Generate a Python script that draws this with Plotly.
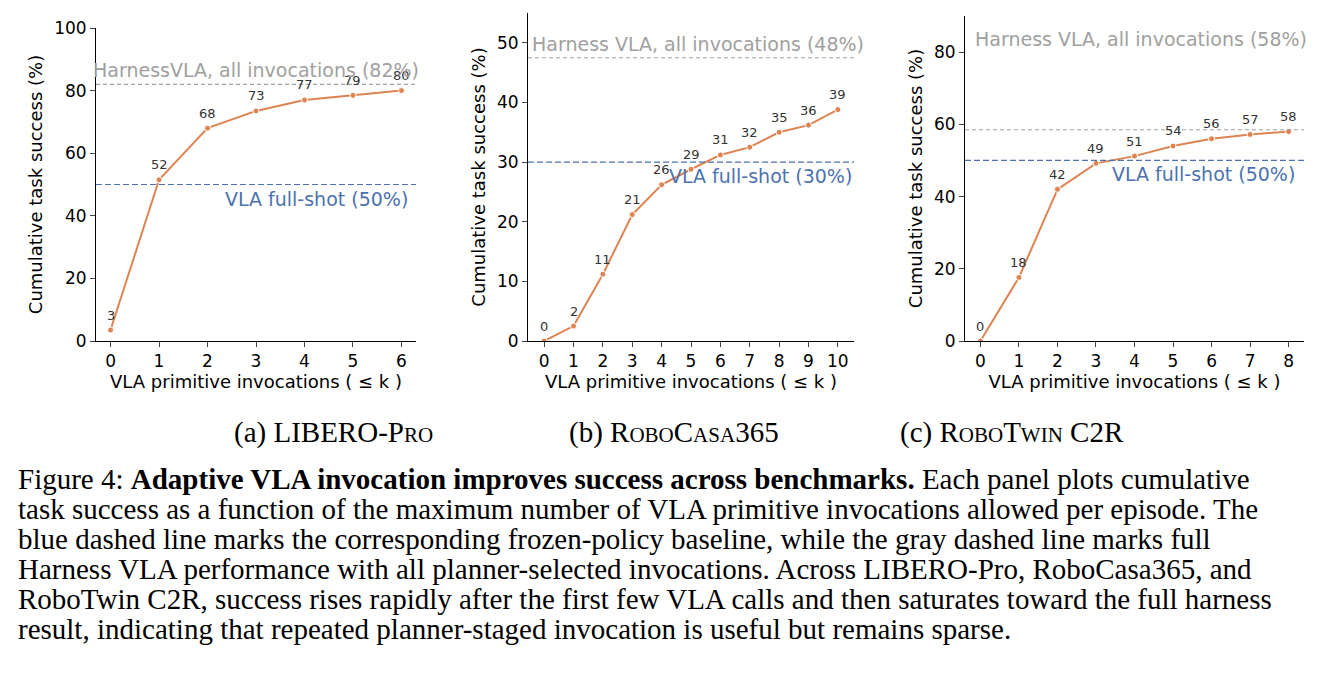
import plotly.graph_objects as go

# data
k_a = [0, 1, 2, 3, 4, 5, 6]
succ_a = [3.5, 51.5, 68, 73.5, 77, 78.5, 80]
lab_a = ["3", "52", "68", "73", "77", "79", "80"]
k_b = list(range(11))
succ_b = [0, 2.5, 11.2, 21.2, 26.2, 28.8, 31.2, 32.5, 35, 36.2, 38.8]
lab_b = ["0", "2", "11", "21", "26", "29", "31", "32", "35", "36", "39"]
k_c = list(range(9))
succ_c = [0, 17.6, 42, 49.2, 51.2, 54, 56, 57.2, 58]
lab_c = ["0", "18", "42", "49", "51", "54", "56", "57", "58"]
harness = [82, 47.5, 58.5]
baseline = [50, 30, 50]
harness_txt = ["HarnessVLA, all invocations (82%)", "Harness VLA, all invocations (48%)",
               "Harness VLA, all invocations (58%)"]
base_txt = ["VLA full-shot (50%)", "VLA full-shot (30%)", "VLA full-shot (50%)"]
sub_caps = ["(a) LIBERO-P<span style='font-size:21px'>RO</span>",
            "(b) R<span style='font-size:21px'>OBO</span>C<span style='font-size:21px'>ASA</span>365",
            "(c) R<span style='font-size:21px'>OBO</span>T<span style='font-size:21px'>WIN</span> C2R"]
caption = [
    "Figure 4: <b>Adaptive VLA invocation improves success across benchmarks.</b> Each panel plots cumulative",
    "task success as a function of the maximum number of VLA primitive invocations allowed per episode. The",
    "blue dashed line marks the corresponding frozen-policy baseline, while the gray dashed line marks full",
    "Harness VLA performance with all planner-selected invocations. Across LIBERO-Pro, RoboCasa365, and",
    "RoboTwin C2R, success rises rapidly after the first few VLA calls and then saturates toward the full harness",
    "result, indicating that repeated planner-staged invocation is useful but remains sparse.",
]

ORANGE = "#dd8452"
BLUE = "#4c72b0"
GRAY = "#a0a0a0"
FONT = "DejaVu Sans"

panels = [
    (k_a, succ_a, lab_a, [-0.3, 6.3], [0, 100], 20, (88, 408), 20, [0, 1, 2, 3, 4, 5, 6]),
    (k_b, succ_b, lab_b, [-0.55, 10.55], [0, 55], 10, (520, 846), 5, list(range(11))),
    (k_c, succ_c, lab_c, [-0.4, 8.4], [0, 90], 20, (957, 1296), 8, list(range(9))),
]
# vertical position of harness label (None = just above the line)
harness_pos = [None, None, 0.93]

W, H = 1320, 699
fig = go.Figure()
annotations = []
shapes = []
ybot = 333
for i, (xs, ys, labs, xr, yr, dt, (x0, x1), ytop, ticks) in enumerate(panels):
    n = "" if i == 0 else str(i + 1)
    fig.add_trace(go.Scatter(x=xs, y=ys, mode="lines+markers",
                             line=dict(color=ORANGE, width=2),
                             marker=dict(color=ORANGE, size=6, line=dict(color="white", width=1)),
                             showlegend=False, xaxis="x" + n, yaxis="y" + n))
    for xv, yv, t in zip(xs, ys, labs):
        annotations.append(dict(x=xv, y=yv, xref="x" + n, yref="y" + n, text=t, showarrow=False,
                                yshift=15, font=dict(family=FONT, size=13, color="#333")))
    dom_y = [1 - ybot / H, 1 - ytop / H]
    common = dict(showline=True, linecolor="black", linewidth=1, ticks="outside", ticklen=5,
                  tickfont=dict(family=FONT, size=17, color="black"), showgrid=False,
                  zeroline=False, automargin=False)
    fig.update_layout(**{
        "xaxis" + n: dict(domain=[x0 / W, x1 / W], range=xr, tickvals=ticks, anchor="y" + n,
                          title=dict(text="VLA primitive invocations ( ≤ k )", standoff=4,
                                     font=dict(family=FONT, size=18, color="black")), **common),
        "yaxis" + n: dict(domain=dom_y, range=yr, dtick=dt, anchor="x" + n,
                          title=dict(text="Cumulative task success (%)", standoff=6,
                                     font=dict(family=FONT, size=18, color="black")), **common),
    })
    shapes.append(dict(type="line", xref="x" + n + " domain", yref="y" + n, x0=0, x1=1,
                       y0=harness[i], y1=harness[i], line=dict(color=GRAY, width=1.2, dash="4px,3px")))
    shapes.append(dict(type="line", xref="x" + n + " domain", yref="y" + n, x0=0, x1=1,
                       y0=baseline[i], y1=baseline[i], line=dict(color=BLUE, width=1.2, dash="6px,3px")))
    if harness_pos[i] is None:
        ha = dict(y=harness[i], yref="y" + n, yanchor="bottom", yshift=1)
    else:
        ha = dict(y=harness_pos[i], yref="y" + n + " domain", yanchor="middle")
    annotations.append(dict(x=0.5 if i == 0 else 0.52, xref="x" + n + " domain",
                            text=harness_txt[i], showarrow=False, xanchor="center",
                            font=dict(family=FONT, size=19, color=GRAY), **ha))
    annotations.append(dict(x=0.98 if i != 1 else 1.0, y=baseline[i], xref="x" + n + " domain", yref="y" + n,
                            text=base_txt[i], showarrow=False, yanchor="top", yshift=-1,
                            xanchor="right", font=dict(family=FONT, size=19, color=BLUE)))

for cx, t in zip([224, 666, 1118], sub_caps):
    annotations.append(dict(x=cx / W, y=1 - 424 / H, xref="paper", yref="paper", text=t,
                            showarrow=False, font=dict(family="Liberation Serif", size=29, color="black")))
for j, line in enumerate(caption):
    annotations.append(dict(x=8 / W, y=1 - (489 + 30 * j) / H, xref="paper", yref="paper", text=line,
                            showarrow=False, xanchor="left",
                            font=dict(family="Liberation Serif", size=29, color="black")))

fig.update_layout(width=W, height=H, margin=dict(l=0, r=0, t=0, b=0),
                  plot_bgcolor="white", paper_bgcolor="white",
                  annotations=annotations, shapes=shapes)
fig.write_html("out.html")
